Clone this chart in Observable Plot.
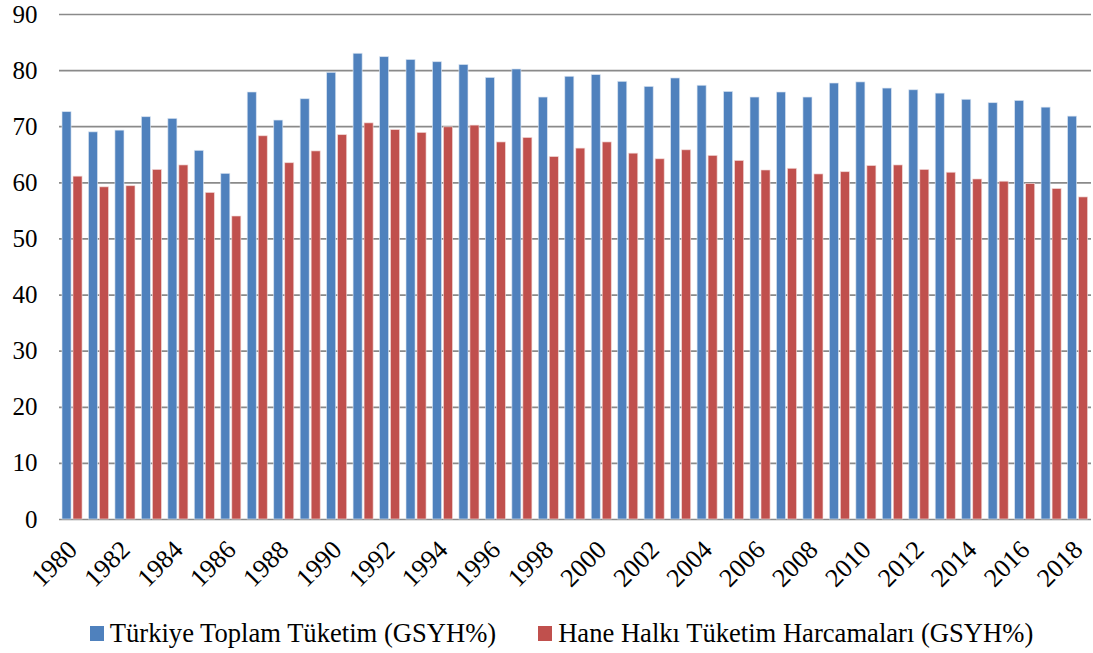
<!DOCTYPE html>
<html>
<head>
<meta charset="utf-8">
<script src="https://cdn.jsdelivr.net/npm/d3@7"></script>
<script src="https://cdn.jsdelivr.net/npm/@observablehq/plot@0.6"></script>
<style>
  html, body { margin: 0; padding: 0; background: #fff; }
  #chart svg { display: block; }
  .legend { display: flex; justify-content: center; align-items: center; gap: 42px;
    font-family: "Liberation Serif", "Times New Roman", serif; font-size: 26.6px; color: #000;
    margin-top: 13px; line-height: 30px; padding-left: 30px; }
  .item { display: flex; align-items: center; gap: 6px; }
  .sw { width: 14px; height: 15px; display: inline-block; }
</style>
</head>
<body>
<div id="chart"></div>
<script>
const years = d3.range(1980, 2019);
const seriesNames = ["Türkiye Toplam Tüketim (GSYH%)", "Hane Halkı Tüketim Harcamaları (GSYH%)"];
const seriesColors = ["#4F81BD", "#C0504D"];
const toplam = [72.6, 69.0, 69.3, 71.7, 71.4, 65.7, 61.6, 76.1, 71.1, 74.9, 79.6, 83.0,
  82.4, 81.9, 81.5, 81.0, 78.7, 80.2, 75.2, 78.9, 79.2, 78.0, 77.1, 78.6, 77.3,
  76.2, 75.2, 76.1, 75.2, 77.7, 77.9, 76.8, 76.5, 75.9, 74.8, 74.2, 74.6, 73.4, 71.8];
const hane = [61.1, 59.2, 59.4, 62.3, 63.1, 58.2, 54.0, 68.3, 63.5, 65.6, 68.5, 70.6,
  69.4, 68.9, 69.9, 70.2, 67.2, 68.0, 64.6, 66.1, 67.2, 65.2, 64.2, 65.8, 64.8,
  63.9, 62.2, 62.5, 61.5, 61.9, 63.0, 63.1, 62.3, 61.8, 60.6, 60.2, 59.8, 58.9, 57.4];
const tickYears = years.filter(y => y % 2 === 0);
const yTicks = d3.range(0, 91, 10);

const data1 = years.map((y, i) => ({year: y, value: toplam[i]}));
const data2 = years.map((y, i) => ({year: y, value: hane[i]}));

const chart = Plot.plot({
  width: 1093,
  height: 605,
  marginLeft: 59,
  marginRight: 2,
  marginTop: 14,
  marginBottom: 86,
  style: {fontFamily: "Liberation Serif, Times New Roman, serif", fontSize: "25px", color: "#000", background: "#fff"},
  x: {domain: years, padding: 0, round: false, label: null},
  y: {domain: [0, 90], label: null},
  marks: [
    Plot.ruleY(yTicks, {stroke: "#8a8a8a", strokeWidth: 1.7}),
    Plot.barY(data1, {x: "year", y: "value", fill: seriesColors[0], insetLeft: 3, insetRight: 14.4,
      stroke: "#dce6f2", strokeWidth: 0.8, strokeOpacity: 0.8}),
    Plot.barY(data2, {x: "year", y: "value", fill: seriesColors[1], insetLeft: 14, insetRight: 3.4,
      stroke: "#f2dcdb", strokeWidth: 0.8, strokeOpacity: 0.8}),
    Plot.axisY({ticks: yTicks, tickSize: 0, tickPadding: 22, label: null, fontSize: 25}),
    Plot.axisX({ticks: tickYears, tickSize: 0, tickPadding: 26, tickRotate: -45, label: null, fontSize: 26, tickFormat: d => String(d)})
  ]
});
document.getElementById("chart").appendChild(chart);

const legend = document.createElement("div");
legend.className = "legend";
seriesNames.forEach((name, i) => {
  const item = document.createElement("span");
  item.className = "item";
  const sw = document.createElement("span");
  sw.className = "sw";
  sw.style.background = seriesColors[i];
  const t = document.createElement("span");
  t.textContent = name;
  item.appendChild(sw);
  item.appendChild(t);
  legend.appendChild(item);
});
document.getElementById("chart").appendChild(legend);
</script>
</body>
</html>
